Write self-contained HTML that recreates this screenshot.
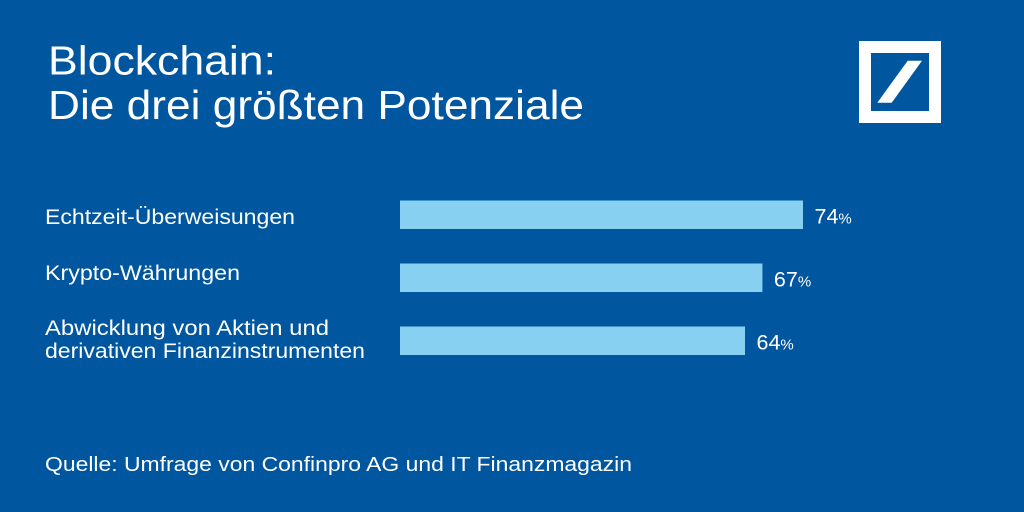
<!DOCTYPE html>
<html lang="de">
<head>
<meta charset="utf-8">
<title>Blockchain: Die drei größten Potenziale</title>
<style>
html,body{margin:0;padding:0;background:#00569f;}
svg{display:block;font-family:"Liberation Sans",sans-serif;}
</style>
</head>
<body>
<svg id="chart" width="1024" height="512" viewBox="0 0 1024 512" xmlns="http://www.w3.org/2000/svg">
  <rect width="1024" height="512" fill="#00569f"/>
  <g fill="#ffffff" font-size="41" font-weight="400">
    <text x="48" y="74.7" textLength="228" lengthAdjust="spacingAndGlyphs">Blockchain:</text>
    <text x="48" y="119" textLength="536" lengthAdjust="spacingAndGlyphs">Die drei größten Potenziale</text>
  </g>
  <g>
    <path d="M859 41H941V123H859ZM871 53V111H929V53Z" fill="#ffffff" fill-rule="evenodd"/>
    <polygon points="907.7,60.7 922,60.7 891.7,102.7 877.3,102.7" fill="#ffffff"/>
  </g>
  <g id="labels" fill="#ffffff" font-size="21">
    <text x="45" y="224" textLength="250" lengthAdjust="spacingAndGlyphs">Echtzeit-Überweisungen</text>
    <text x="45" y="280" textLength="195" lengthAdjust="spacingAndGlyphs">Krypto-Währungen</text>
    <text x="45" y="335" textLength="284" lengthAdjust="spacingAndGlyphs">Abwicklung von Aktien und</text>
    <text x="45" y="358" textLength="320" lengthAdjust="spacingAndGlyphs">derivativen Finanzinstrumenten</text>
  </g>
  <g id="bars"></g>
  <g id="values" fill="#ffffff"></g>
  <text x="45" y="471" fill="#ffffff" font-size="20.5" textLength="587" lengthAdjust="spacingAndGlyphs">Quelle: Umfrage von Confinpro AG und IT Finanzmagazin</text>
</svg>
<script>
const categories = ["Echtzeit-Überweisungen", "Krypto-Währungen", "Abwicklung von Aktien und derivativen Finanzinstrumenten"];
const values = [74, 67, 64];

const NS = "http://www.w3.org/2000/svg";
function xScale(v) { return 400 + (v - 4.5) * (403 / 69.5); }
function yScale(i) { return 200.5 + i * 63; }
const barHeight = 28.5;

const barsGroup = document.getElementById("bars");
const valuesGroup = document.getElementById("values");

values.forEach(function (v, i) {
  const y = yScale(i);
  const end = xScale(v);

  const bar = document.createElementNS(NS, "rect");
  bar.setAttribute("x", 400);
  bar.setAttribute("y", y);
  bar.setAttribute("width", end - 400);
  bar.setAttribute("height", barHeight);
  bar.setAttribute("fill", "#88d0f2");
  
  
  const tip = document.createElementNS(NS, "title");
  tip.textContent = categories[i];
  bar.appendChild(tip);
  barsGroup.appendChild(bar);

  const label = document.createElementNS(NS, "text");
  label.setAttribute("x", end + 11.5);
  label.setAttribute("y", y + 23);
  label.setAttribute("font-size", "21.5");
  
  
  label.textContent = v;
  const pct = document.createElementNS(NS, "tspan");
  pct.setAttribute("font-size", "15");
  pct.textContent = "%";
  label.appendChild(pct);
  valuesGroup.appendChild(label);
});
</script>
</body>
</html>
